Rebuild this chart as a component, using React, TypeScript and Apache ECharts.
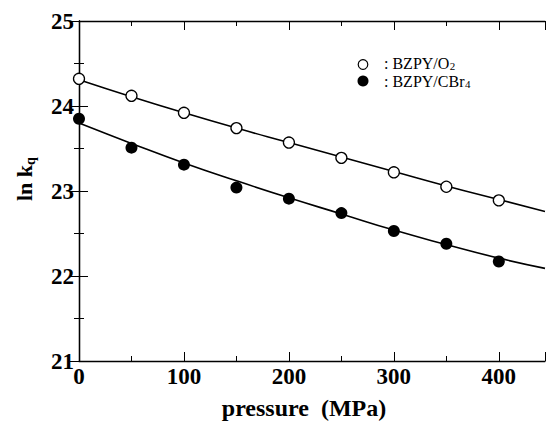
import React, { useEffect, useRef } from "react";
import * as echarts from "echarts";

const pressures = [0, 50, 100, 150, 200, 250, 300, 350, 400];
const o2Values = [24.32, 24.12, 23.92, 23.74, 23.57, 23.39, 23.22, 23.05, 22.89];
const cbr4Values = [23.85, 23.51, 23.31, 23.04, 22.91, 22.74, 22.53, 22.38, 22.17];

const fitPressures = [0, 50, 100, 150, 200, 250, 300, 350, 400, 444];
const o2Fit = [24.31, 24.11, 23.92, 23.74, 23.57, 23.4, 23.23, 23.06, 22.9, 22.76];
const cbr4Fit = [23.8, 23.56, 23.33, 23.12, 22.92, 22.73, 22.54, 22.37, 22.21, 22.09];

const xTicks = [0, 100, 200, 300, 400];
const yTicks = [21, 22, 23, 24, 25];

const legendMain = [": BZPY/O", ": BZPY/CBr"];
const legendSub = ["2", "4"];

const FONT = "'Liberation Serif', 'Times New Roman', serif";

function measure(text: string, font: string): number {
  const c = document.createElement("canvas").getContext("2d");
  if (!c) return text.length * 8;
  c.font = font;
  return c.measureText(text).width;
}

export default function App() {
  const ref = useRef<HTMLDivElement>(null);
  useEffect(() => {
    if (!ref.current) return;
    const chart = echarts.init(ref.current, null, { renderer: "svg" });
    const axisCommon = {
      type: "value",
      axisLine: { show: true, lineStyle: { color: "#000", width: 1.3 } },
      axisTick: { show: true, inside: true, length: 9, lineStyle: { color: "#000", width: 1 } },
      minorTick: { show: true, splitNumber: 2, length: 5, lineStyle: { color: "#000", width: 1 } },
      splitLine: { show: false },
    };
    const xLabel = {
      fontFamily: FONT,
      fontWeight: "bold",
      fontSize: 23,
      color: "#000",
      margin: 4,
      formatter: (v: number) => (xTicks.includes(v) ? String(v) : ""),
    };
    const yLabel = {
      fontFamily: FONT,
      fontWeight: "bold",
      fontSize: 23,
      color: "#000",
      margin: 5,
      formatter: (v: number) => (yTicks.includes(v) ? String(v) : ""),
    };
    const legendFont = 16;
    const legendY = [63.8, 81.5];
    const legendGraphics: any[] = [];
    legendMain.forEach((t, i) => {
      const w = measure(t, `${legendFont}px 'Liberation Serif'`);
      legendGraphics.push({
        type: "text",
        x: 384,
        y: legendY[i],
        style: {
          text: t,
          fontFamily: FONT,
          fontSize: legendFont,
          lineHeight: 14,
          fill: "#000",
          verticalAlign: "middle",
        },
      });
      legendGraphics.push({
        type: "text",
        x: 384 + w + 0.5,
        y: legendY[i] + 2.6,
        style: {
          text: legendSub[i],
          fontFamily: FONT,
          fontSize: 11,
          lineHeight: 8,
          fill: "#000",
          verticalAlign: "middle",
        },
      });
    });
    const yNameW = measure("ln k", `bold 22px 'Liberation Serif'`);
    chart.setOption({
      animation: false,
      backgroundColor: "#fff",
      grid: { left: 79, right: 0, top: 21, bottom: 62 },
      xAxis: [
        { ...axisCommon, min: 0, max: 444, interval: 100, position: "bottom", axisLabel: xLabel },
        { ...axisCommon, min: 0, max: 444, interval: 100, position: "top", axisLabel: { show: false } },
      ],
      yAxis: [
        { ...axisCommon, min: 21, max: 25, interval: 1, position: "left", axisLabel: yLabel },
        { ...axisCommon, min: 21, max: 25, interval: 1, position: "right", axisLabel: { show: false } },
      ],
      series: [
        {
          type: "line",
          smooth: true,
          showSymbol: false,
          data: fitPressures.map((p, i) => [p, o2Fit[i]]),
          lineStyle: { color: "#000", width: 1.6 },
          z: 2,
        },
        {
          type: "line",
          smooth: true,
          showSymbol: false,
          data: fitPressures.map((p, i) => [p, cbr4Fit[i]]),
          lineStyle: { color: "#000", width: 1.6 },
          z: 2,
        },
        {
          type: "scatter",
          symbol: "circle",
          symbolSize: 11,
          data: pressures.map((p, i) => [p, o2Values[i]]),
          itemStyle: { color: "#fff", borderColor: "#000", borderWidth: 1.3, opacity: 1 },
          z: 3,
        },
        {
          type: "scatter",
          symbol: "circle",
          symbolSize: 12,
          data: pressures.map((p, i) => [p, cbr4Values[i]]),
          itemStyle: { color: "#000", opacity: 1 },
          z: 3,
        },
      ],
      graphic: [
        {
          type: "circle",
          shape: { cx: 363, cy: 64.5, r: 4.8 },
          style: { fill: "#fff", stroke: "#000", lineWidth: 1.2 },
        },
        {
          type: "circle",
          shape: { cx: 363, cy: 81, r: 5.5 },
          style: { fill: "#000" },
        },
        ...legendGraphics,
        {
          type: "group",
          x: 24,
          y: 201,
          rotation: Math.PI / 2,
          children: [
            {
              type: "text",
              x: 0,
              y: 0,
              style: {
                text: "ln k",
                fontFamily: FONT,
                fontWeight: "bold",
                fontSize: 22,
                fill: "#000",
                verticalAlign: "middle",
              },
            },
            {
              type: "text",
              x: yNameW,
              y: 6,
              style: {
                text: "q",
                fontFamily: FONT,
                fontWeight: "bold",
                fontSize: 14,
                fill: "#000",
                verticalAlign: "middle",
              },
            },
          ],
        },
        {
          type: "text",
          x: 304,
          y: 408,
          style: {
            text: "pressure  (MPa)",
            fontFamily: FONT,
            fontWeight: "bold",
            fontSize: 24,
            fill: "#000",
            align: "center",
            verticalAlign: "middle",
          },
        },
      ],
    });
    return () => chart.dispose();
  }, []);
  return <div ref={ref} style={{ width: 548, height: 423, position: "absolute", left: 0, top: 0 }} />;
}
